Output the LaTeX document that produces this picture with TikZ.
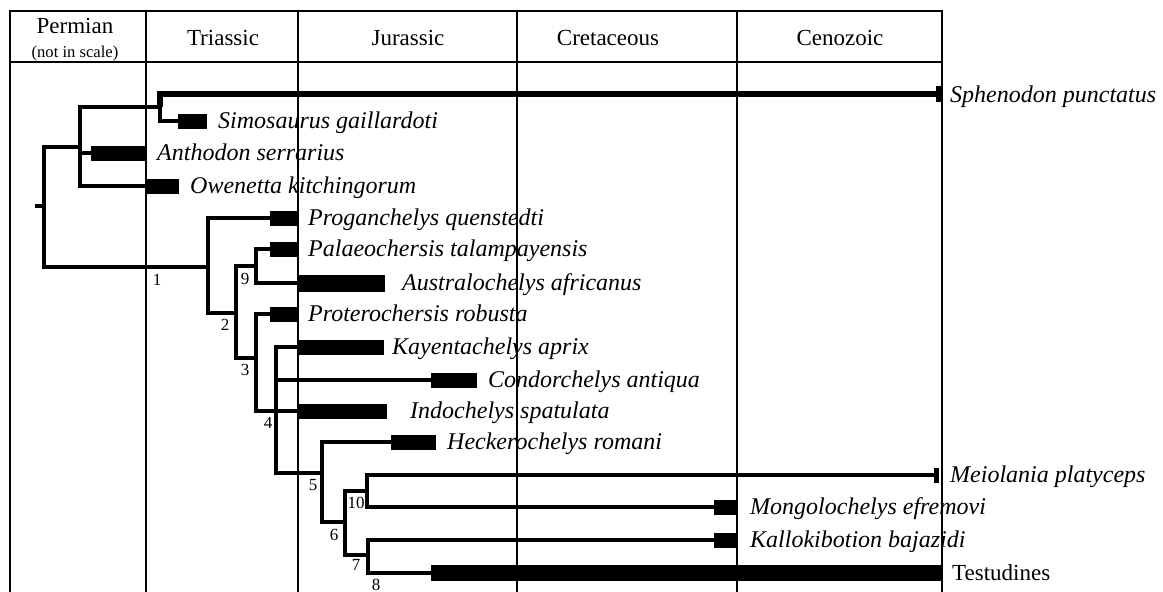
\documentclass[tikz,border=0pt]{standalone}
\usepackage{fontspec}
\setmainfont{Liberation Serif}
\begin{document}
\begin{tikzpicture}[x=1pt,y=-1pt,
  branch/.style={line width=4.5pt, line join=miter, line cap=butt},
  grid/.style={line width=1.6pt},
  tipbox/.style={fill=black, draw=none, inner sep=0pt, minimum height=15pt, anchor=west},
  taxon/.style={anchor=base west, inner sep=0pt, font=\fontsize{24}{28}\selectfont\itshape},
  num/.style={inner sep=0pt, font=\fontsize{17}{20}\selectfont},
  period/.style={anchor=base, inner sep=0pt, font=\fontsize{23}{27}\selectfont}]
\useasboundingbox (0,0) rectangle (1163,592);
% table
\draw[grid] (10,592) -- (10,11) -- (942,11) -- (942,592);
\draw[grid] (10,62) -- (942,62);
\foreach \x in {146,298,517,737} \draw[grid] (\x,11) -- (\x,592);
% header
\node[period] (hPerm) at (75,33) {Permian};
\node[period, font=\fontsize{16.6}{19}\selectfont] (hNot) at (75,57) {(not in scale)};
\node[period] (hTri) at (223,45) {Triassic};
\node[period] (hJur) at (408,45) {Jurassic};
\node[period] (hCre) at (608,45) {Cretaceous};
\node[period] (hCen) at (840,45) {Cenozoic};
% internal nodes
\coordinate (root) at (35,206);
\coordinate (nR) at (44,206);
\coordinate (nA) at (80,147);
\coordinate (nB) at (160,107);
\coordinate (n1) at (208,267);
\coordinate (n2) at (236,313);
\coordinate (n9) at (256,266);
\coordinate (n3) at (256,358);
\coordinate (n4) at (276,411);
\coordinate (n5) at (322,473);
\coordinate (n6) at (345,522);
\coordinate (n10) at (367,491);
\coordinate (n7) at (368,555);
% tips
\node[tipbox, minimum width=6pt, minimum height=16pt] (tSph) at (936,94) {};
\node[tipbox, minimum width=29pt] (tSim) at (178,121) {};
\node[tipbox, minimum width=55pt] (tAnt) at (91,153) {};
\node[tipbox, minimum width=33pt] (tOwe) at (146,186) {};
\node[tipbox, minimum width=27pt] (tPrg) at (270,218) {};
\node[tipbox, minimum width=27pt] (tPal) at (270,249) {};
\node[tipbox, minimum width=88pt, minimum height=17pt] (tAus) at (297,283) {};
\node[tipbox, minimum width=27pt] (tPrt) at (270,314) {};
\node[tipbox, minimum width=87pt] (tKay) at (297,347) {};
\node[tipbox, minimum width=46pt] (tCon) at (431,380) {};
\node[tipbox, minimum width=90pt] (tInd) at (297,411) {};
\node[tipbox, minimum width=45pt] (tHec) at (391,442) {};
\node[tipbox, minimum width=5pt] (tMei) at (934,475) {};
\node[tipbox, minimum width=22pt] (tMon) at (714,507) {};
\node[tipbox, minimum width=22pt] (tKal) at (714,540) {};
\node[tipbox, minimum width=511pt, minimum height=16pt] (tTes) at (431,573) {};
% branches
\draw[branch] (root) -- (nR);
\draw[branch] (nA) -| (nR) |- (n1);
\draw[branch] (nB) -| (nA) |- (tOwe.west);
\draw[branch] (nA) |- (tAnt.west);
\draw[branch, line width=5.5pt] (tSph.west) -| (nB);
\draw[branch] (nB) |- (tSim.west);
\draw[branch] (nB) -- (nB |- tSph.west);
\draw[branch] (tPrg.west) -| (n1) |- (n2);
\draw[branch] (n9) -| (n2) |- (n3);
\draw[branch] (tPal.west) -| (n9) |- (tAus.west);
\draw[branch] (tPrt.west) -| (n3) |- (tInd.west);
\draw[branch] (tKay.west) -| (n4) |- (n5);
\draw[branch] (n4) |- (tCon.west);
\draw[branch] (tHec.west) -| (n5) |- (n6);
\draw[branch] (n10) -| (n6) |- (n7);
\draw[branch, line width=4pt] (tMei.west) -| (n10) |- (tMon.west);
\draw[branch, line width=4pt] (tKal.west) -| (n7) |- (tTes.west);
% taxon labels
\node[taxon] (lSph) at (950,102) {Sphenodon punctatus};
\node[taxon] (lSim) at (218,128.5) {Simosaurus gaillardoti};
\node[taxon] (lAnt) at (157,160.5) {Anthodon serrarius};
\node[taxon] (lOwe) at (190,193.5) {Owenetta kitchingorum};
\node[taxon] (lPrg) at (308,225.5) {Proganchelys quenstedti};
\node[taxon] (lPal) at (308,256.5) {Palaeochersis talampayensis};
\node[taxon] (lAus) at (402,290.5) {Australochelys africanus};
\node[taxon] (lPrt) at (308,321.5) {Proterochersis robusta};
\node[taxon] (lKay) at (392,354.5) {Kayentachelys aprix};
\node[taxon] (lCon) at (488,387.5) {Condorchelys antiqua};
\node[taxon] (lInd) at (410,418.5) {Indochelys spatulata};
\node[taxon] (lHec) at (447,449.5) {Heckerochelys romani};
\node[taxon] (lMei) at (950,482.5) {Meiolania platyceps};
\node[taxon] (lMon) at (750,514.5) {Mongolochelys efremovi};
\node[taxon] (lKal) at (750,547.5) {Kallokibotion bajazidi};
\node[taxon, font=\fontsize{23}{27}\selectfont] (lTes) at (952,580) {Testudines};
% node numbers
\node[num] (k1) at (157,280) {1};
\node[num] (k2) at (225,325) {2};
\node[num] (k3) at (245,370) {3};
\node[num] (k4) at (268,423) {4};
\node[num] (k5) at (313,485) {5};
\node[num] (k6) at (334,535) {6};
\node[num] (k7) at (356,565) {7};
\node[num] (k8) at (376,585) {8};
\node[num] (k9) at (245,279) {9};
\node[num] (k10) at (356,503) {10};
\end{tikzpicture}
\end{document}
